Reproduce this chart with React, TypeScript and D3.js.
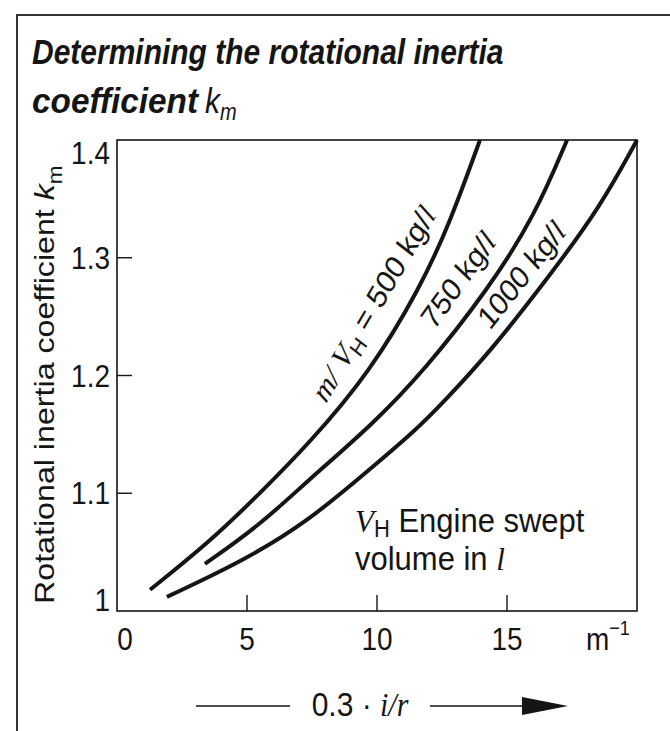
import React from 'react';
import * as d3 from 'd3';

// ---- data ----
const xTickValues = [5, 10, 15];
const xTickLabels = ['0', '5', '10', '15'];
const xTickLabelValues = [0, 5, 10, 15];
const yTickValues = [1.1, 1.2, 1.3];
const yTickLabels = ['1', '1.1', '1.2', '1.3', '1.4'];
const yTickLabelValues = [1, 1.1, 1.2, 1.3, 1.4];

// m/VH = 500 kg/l
const c500X = [1.27, 3.58, 5.5, 7.42, 9.73, 11.65, 12.81, 13.96];
const c500Y = [1.018, 1.059, 1.1, 1.143, 1.203, 1.274, 1.33, 1.4];
// 750 kg/l
const c750X = [3.38, 5.5, 7.35, 9.81, 11.85, 14.27, 16.08, 17.31];
const c750Y = [1.04, 1.073, 1.111, 1.158, 1.205, 1.273, 1.336, 1.4];
// 1000 kg/l
const c1000X = [1.92, 4.81, 7.35, 9.81, 11.46, 12.54, 14.35, 16.65, 18.58, 20.0];
const c1000Y = [1.012, 1.042, 1.076, 1.122, 1.153, 1.177, 1.22, 1.285, 1.343, 1.4];

const W = 670;
const H = 731;
const SANS = '"Liberation Sans", Arial, Helvetica, sans-serif';
const SERIF = '"Liberation Serif", "Times New Roman", serif';
const INK = '#151515';
const SY = 1.15; // vertical stretch of the reference lettering

function T({ x, y, sy = SY, rot = 0, anchor = 'start', size = 28, children, ...rest }: any) {
  return (
    <g transform={`translate(${x},${y}) scale(1,${sy}) rotate(${rot})`}>
      <text x={0} y={0} textAnchor={anchor} fontFamily={SANS} fontSize={size} fill={INK} {...rest}>
        {children}
      </text>
    </g>
  );
}

function skew(angle: number, sy: number) {
  // pre-rotation so that after vertical stretch the text runs at `angle`
  const r = (angle * Math.PI) / 180;
  return (Math.atan2(Math.sin(r) / sy, Math.cos(r)) * 180) / Math.PI;
}

export default function App() {
  const x = d3.scaleLinear().domain([0, 20]).range([117, 637]);
  const y = d3.scaleLinear().domain([1, 1.4]).range([611, 140]);
  const line = d3
    .line<[number, number]>()
    .x((d) => x(d[0]))
    .y((d) => y(d[1]))
    .curve(d3.curveBasis);
  const series = [
    { xs: c500X, ys: c500Y },
    { xs: c750X, ys: c750Y },
    { xs: c1000X, ys: c1000Y },
  ];
  const [x0, x1] = x.range();
  const [yb, yt] = y.range();

  return (
    <svg
      width={W}
      height={H}
      viewBox={`0 0 ${W} ${H}`}
      style={{ position: 'absolute', left: 0, top: 0, background: '#fff' }}
    >
      <rect x={0} y={0} width={W} height={H} fill="#fff" />
      {/* outer border (open on right/bottom) */}
      <path d={`M17,${H} V15 H${W}`} fill="none" stroke="#333" strokeWidth={2} />

      {/* title */}
      <T x={32} y={64} size={30} fontWeight="bold" fontStyle="italic">
        Determining the rotational inertia
      </T>
      <T x={32} y={113} size={30} fontWeight="bold" fontStyle="italic" textLength={166} lengthAdjust="spacingAndGlyphs">
        coefficient
      </T>
      <T x={205} y={113} size={30} fontStyle="italic">
        k<tspan fontSize={20} dy={6}>m</tspan>
      </T>

      {/* plot frame */}
      <rect x={x0} y={yt} width={x1 - x0} height={yb - yt} fill="none" stroke={INK} strokeWidth={1.6} />

      {/* y ticks */}
      {yTickValues.map((v) => (
        <line key={'yt' + v} x1={x0} x2={x0 + 15} y1={y(v)} y2={y(v)} stroke={INK} strokeWidth={1.4} />
      ))}
      {/* x ticks */}
      {xTickValues.map((v) => (
        <line key={'xt' + v} x1={x(v)} x2={x(v)} y1={yb} y2={yb - 16} stroke={INK} strokeWidth={1.4} />
      ))}

      {/* y tick labels */}
      {yTickLabelValues.map((v, i) => {
        let off = 11;
        if (i === 0) off = 0;
        if (i === yTickLabelValues.length - 1) off = 24;
        return (
          <T key={'yl' + v} x={110} y={y(v) + off} anchor="end" size={28}>
            {yTickLabels[i]}
          </T>
        );
      })}
      {/* x tick labels */}
      {xTickLabelValues.map((v, i) => (
        <T key={'xl' + v} x={x(v) + (i === 0 ? 8 : 0)} y={650} anchor="middle" size={28}>
          {xTickLabels[i]}
        </T>
      ))}
      <T x={586} y={650} size={28}>
        m<tspan fontSize={18} dy={-13}>−1</tspan>
      </T>

      {/* y axis title */}
      <g transform="translate(54,604) scale(1,1.13) rotate(-90)">
        <text x={0} y={0} fontFamily={SANS} fontSize={28.5} fill={INK}>
          Rotational inertia coefficient <tspan fontStyle="italic">k</tspan>
          <tspan fontSize={20} dy={8}>m</tspan>
        </text>
      </g>

      {/* curves */}
      {series.map((s, i) => (
        <path
          key={'c' + i}
          d={line(s.xs.map((v, j) => [v, s.ys[j]] as [number, number])) || ''}
          fill="none"
          stroke={INK}
          strokeWidth={4}
          strokeLinecap="butt"
        />
      ))}

      {/* curve labels */}
      <T x={326} y={404} rot={skew(-59.6, SY)} size={28}>
        <tspan fontFamily={SERIF} fontStyle="italic">m/ V</tspan>
        <tspan fontSize={20} dy={6}>H</tspan>
        <tspan dy={-6}> = 500 kg/</tspan>
        <tspan fontFamily={SERIF} fontStyle="italic">l</tspan>
      </T>
      <T x={434} y={331} rot={skew(-54.4, SY)} size={28}>
        750 kg/<tspan fontFamily={SERIF} fontStyle="italic">l</tspan>
      </T>
      <T x={490} y={331} rot={skew(-51.8, SY)} size={28}>
        1000 kg/<tspan fontFamily={SERIF} fontStyle="italic">l</tspan>
      </T>

      {/* annotation */}
      <T x={355} y={532} size={31} sy={1.05}>
        <tspan fontFamily={SERIF} fontStyle="italic">V</tspan>
        <tspan fontSize={22} dy={5}>H</tspan>
        <tspan dy={-5}> Engine swept</tspan>
      </T>
      <T x={355} y={570} size={31} sy={1.05}>
        volume in <tspan fontFamily={SERIF} fontStyle="italic">l</tspan>
      </T>

      {/* bottom axis arrow */}
      <line x1={196} x2={290} y1={706} y2={706} stroke={INK} strokeWidth={1.5} />
      <T x={360} y={716} anchor="middle" size={30} sy={1.1}>
        0.3 · <tspan fontFamily={SERIF} fontStyle="italic">i</tspan>
        <tspan fontFamily={SERIF} fontStyle="italic">/r</tspan>
      </T>
      <line x1={430} x2={525} y1={706} y2={706} stroke={INK} strokeWidth={1.5} />
      <path d="M522,697 L568,706 L522,715 Z" fill={INK} />
    </svg>
  );
}
